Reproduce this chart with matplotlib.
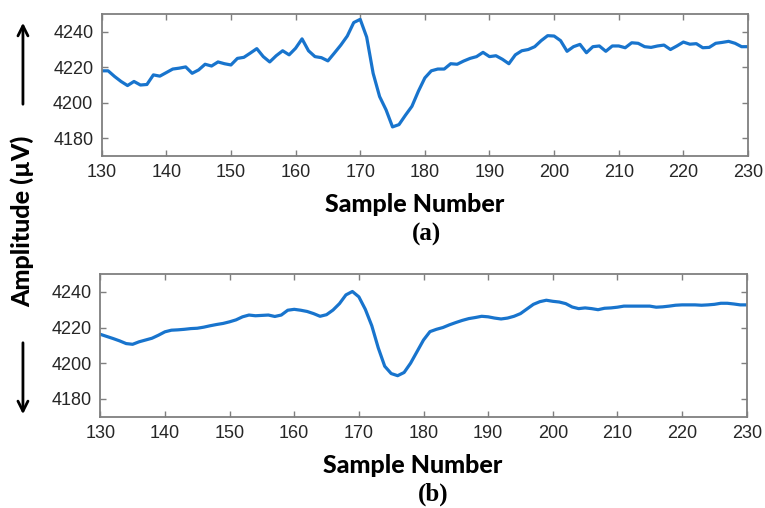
import matplotlib.pyplot as plt
import numpy as np

# sample numbers 130..230 (one value per sample)
samples = list(range(130, 231))

# (a) raw signal, microvolts
raw_uv = [
    4218, 4218, 4214.8, 4212, 4209.7, 4212, 4210, 4210.3, 4215.7, 4215,
    4217, 4219, 4219.5, 4220.2, 4216.6, 4218.5, 4221.7, 4220.7, 4223, 4222,
    4221.3, 4225, 4225.6, 4228, 4230.5, 4226, 4223, 4226.5, 4229.3, 4227,
    4230.7, 4236, 4229.3, 4226, 4225.4, 4223.6, 4228, 4232.5, 4237.6, 4245.2,
    4247, 4237, 4216.6, 4203.5, 4196, 4186.4, 4187.7, 4193, 4198, 4206.5,
    4214, 4218, 4219, 4219, 4222, 4221.7, 4223.5, 4225, 4226, 4228.4,
    4226, 4226.5, 4224.5, 4222, 4227, 4229.3, 4230, 4231.6, 4235, 4237.8,
    4237.6, 4235, 4229, 4231.6, 4232.9, 4228.2, 4231.6, 4232, 4229, 4232,
    4232, 4231, 4233.8, 4233.5, 4231.6, 4231.2, 4232, 4232.5, 4230, 4232,
    4234.2, 4233, 4233.3, 4231, 4231.2, 4233.5, 4234, 4234.6, 4233.5, 4231.6,
    4231.6,
]

# (b) smoothed signal, microvolts
smooth_uv = [
    4216.2, 4215, 4213.8, 4212.5, 4211, 4210.6, 4212, 4213, 4214, 4215.7,
    4217.6, 4218.5, 4218.7, 4219, 4219.4, 4219.6, 4220.2, 4221, 4221.7, 4222.3,
    4223.2, 4224.3, 4226, 4227, 4226.6, 4226.8, 4227, 4226.2, 4227, 4229.7,
    4230.2, 4229.7, 4229, 4227.8, 4226.3, 4227.2, 4229.8, 4233.4, 4238.3, 4240.2,
    4237.2, 4230.2, 4221, 4208.6, 4198.3, 4194.2, 4193, 4194.8, 4200, 4206.5,
    4213, 4217.7, 4219, 4220, 4221.5, 4222.8, 4224, 4225, 4225.6, 4226.3,
    4226, 4225.3, 4224.8, 4225.3, 4226.3, 4227.8, 4230.4, 4233, 4234.5, 4235.3,
    4234.7, 4234.3, 4233.4, 4231.5, 4230.6, 4231, 4230.6, 4230, 4230.8, 4231,
    4231.4, 4232, 4232, 4232, 4232, 4232, 4231.4, 4231.6, 4232, 4232.5,
    4232.7, 4232.7, 4232.7, 4232.5, 4232.7, 4233, 4233.6, 4233.6, 4233.2, 4232.7,
    4232.7,
]

x_ticks = list(range(130, 231, 10))
y_ticks = [4180, 4200, 4220, 4240]

LINE_BLUE = '#1874CD'
TICK_GREY = '#262626'
SPINE_GREY = '#7f7f7f'


def style_axes(ax):
    ax.set_xlim(130, 230)
    ax.set_ylim(4170, 4250)
    ax.set_xticks(x_ticks)
    ax.set_yticks(y_ticks)
    ax.tick_params(direction='in', length=4, width=1, color=SPINE_GREY,
                   top=True, right=True, labelsize=13, labelcolor=TICK_GREY, pad=6)
    for lbl in ax.get_xticklabels() + ax.get_yticklabels():
        lbl.set_family('Liberation Sans')
    for sp in ax.spines.values():
        sp.set_color(SPINE_GREY)
        sp.set_linewidth(1.3)


def main() -> None:
    fig = plt.figure(figsize=(7.65, 5.08), dpi=100)

    ax_a = fig.add_axes([0.1329, 0.6929, 0.8449, 0.2795])
    ax_a.plot(samples, raw_uv, color=LINE_BLUE, lw=2.3)
    style_axes(ax_a)

    ax_b = fig.add_axes([0.1311, 0.1797, 0.8450, 0.2809])
    ax_b.plot(samples, smooth_uv, color=LINE_BLUE, lw=2.3)
    style_axes(ax_b)

    label_font = dict(family='Lato', weight='black', size=18)
    fig.text(0.5425, 0.598, 'Sample Number', ha='center', va='center', **label_font)
    fig.text(0.540, 0.0846, 'Sample Number', ha='center', va='center', **label_font)

    panel_font = dict(family='Liberation Serif', weight='bold', size=18)
    fig.text(0.558, 0.538, '(a)', ha='center', va='center', **panel_font)
    fig.text(0.566, 0.003, '(b)', ha='center', va='bottom', **panel_font)

    # shared y label with arrows above and below
    fig.text(0.029, 1 - 221 / 508, 'Amplitude (µV)', rotation=90,
             ha='center', va='center', **label_font)
    arrow = dict(arrowstyle='->', color='black', lw=2, mutation_scale=18)
    fig.add_artist(plt.Annotation('', xy=(0.030, 1 - 20 / 508), xytext=(0.030, 1 - 107 / 508),
                                  xycoords='figure fraction', arrowprops=arrow))
    fig.add_artist(plt.Annotation('', xy=(0.030, 1 - 417 / 508), xytext=(0.030, 1 - 340 / 508),
                                  xycoords='figure fraction', arrowprops=arrow))

    fig.savefig('out.png', dpi=100)


if __name__ == "__main__":
    main()
